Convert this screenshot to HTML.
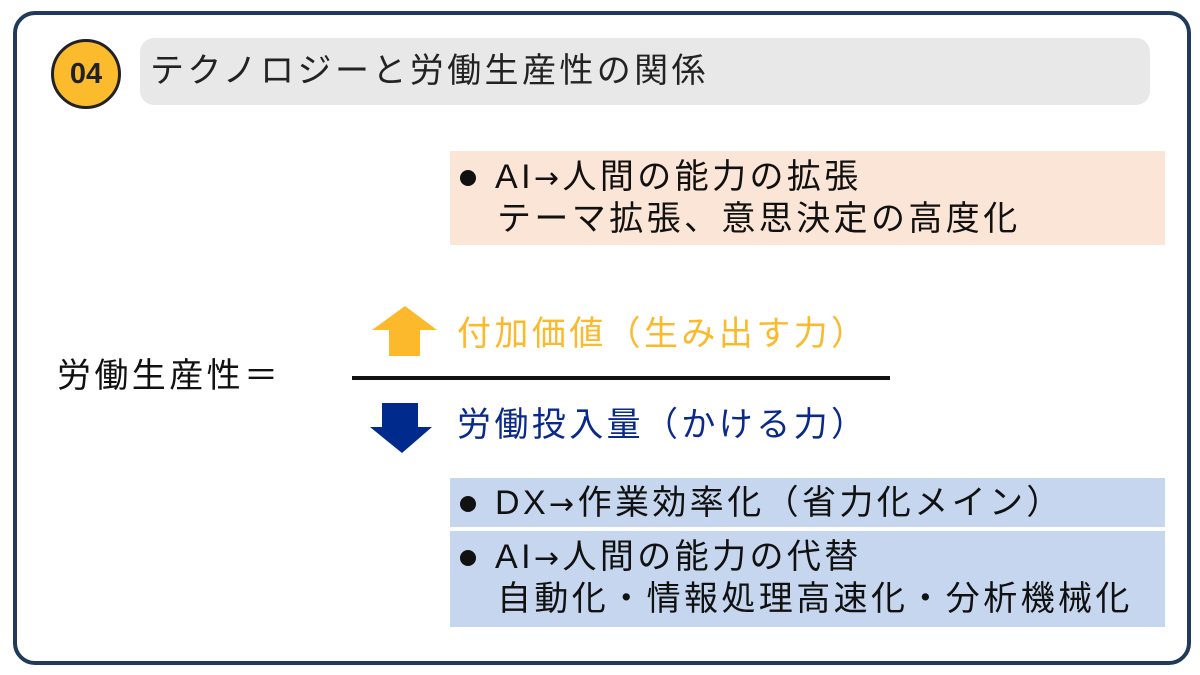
<!DOCTYPE html>
<html><head><meta charset="utf-8"><style>
body{margin:0;width:1200px;height:675px;background:#fff;position:relative;overflow:hidden;font-family:"Liberation Sans","Noto Sans CJK JP",sans-serif;}
.a{position:absolute;}
.t{white-space:nowrap;font-size:34px;letter-spacing:3.4px;line-height:42px;}
.d{position:absolute;width:16px;height:16px;border-radius:50%;background:#111;}
</style></head><body>
<div class="a" style="left:13px;top:11px;width:1170px;height:646px;border:4px solid #1f3a5a;border-radius:22px;"></div>
<div class="a" style="left:140px;top:38px;width:1010px;height:67px;background:#e8e8e8;border-radius:14px;"></div>
<div class="a" style="left:51px;top:39px;width:64px;height:64px;border:3px solid #222;border-radius:50%;background:#fbbb2c;"></div>
<div class="a" style="left:51px;top:39px;width:70px;height:70px;line-height:70px;text-align:center;font-size:29px;font-weight:bold;color:#222;">04</div>
<div class="a t" style="left:150px;top:50px;color:#222;">テクノロジーと労働生産性の関係</div>

<div class="a" style="left:450px;top:151px;width:715px;height:94px;background:#fbe5d6;"></div>
<div class="d" style="left:460px;top:170px;"></div>
<div class="a t" style="left:495px;top:156px;color:#111;">AI<span style="font-family:'DejaVu Sans',sans-serif;font-size:30px">→</span>人間の能力の拡張</div>
<div class="a t" style="left:497px;top:198px;color:#111;">テーマ拡張、意思決定の高度化</div>

<div class="a t" style="left:57px;top:355px;color:#111;">労働生産性＝</div>
<svg class="a" style="left:0;top:0" width="1200" height="675">
<polygon points="405,306 437,330 420,330 420,356 389,356 389,330 372,330" fill="#fbb92b"/>
<polygon points="382,403 418,403 418,427 432,427 402,453 370,427 382,427" fill="#002b8c"/>
<rect x="352" y="376" width="538" height="4" fill="#111"/>
</svg>
<div class="a t" style="left:457px;top:313px;color:#fbb92b;">付加価値（生み出す力）</div>
<div class="a t" style="left:457px;top:404px;color:#0a2a8a;">労働投入量（かける力）</div>

<div class="a" style="left:450px;top:478px;width:715px;height:49px;background:#c5d6ee;"></div>
<div class="d" style="left:460px;top:496px;"></div>
<div class="a t" style="left:495px;top:482px;color:#111;">DX<span style="font-family:'DejaVu Sans',sans-serif;font-size:30px">→</span>作業効率化（省力化メイン）</div>
<div class="a" style="left:450px;top:531px;width:715px;height:96px;background:#c5d6ee;"></div>
<div class="d" style="left:460px;top:550px;"></div>
<div class="a t" style="left:495px;top:536px;color:#111;">AI<span style="font-family:'DejaVu Sans',sans-serif;font-size:30px">→</span>人間の能力の代替</div>
<div class="a t" style="left:497px;top:578px;color:#111;">自動化・情報処理高速化・分析機械化</div>
</body></html>
